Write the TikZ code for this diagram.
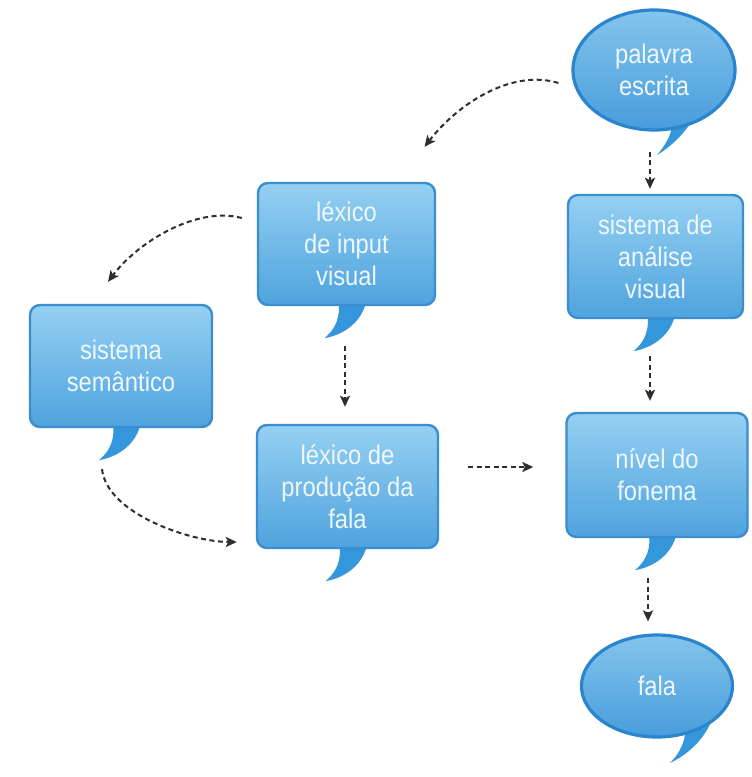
\documentclass[tikz,border=0pt]{standalone}
\usepackage{fontspec}
\usetikzlibrary{shapes.geometric,arrows.meta,backgrounds}
\newfontfamily\narrowsans[FakeStretch=0.88]{Liberation Sans}
\definecolor{blueL}{HTML}{95D0F2}
\definecolor{blueM}{HTML}{4FA3DE}
\definecolor{blueD}{HTML}{3A8DCF}
\definecolor{blueE}{HTML}{2A84CE}
\definecolor{tailC}{HTML}{3496DB}
\definecolor{txtC}{HTML}{EEF7FD}
\definecolor{arrC}{HTML}{2E2E2E}
\tikzset{
  bubblebox/.style={rectangle, rounded corners=10pt, draw=blueD, line width=2.4pt,
    top color=blueL, bottom color=blueM, text=txtC, align=center,
    font=\narrowsans\fontsize{27}{32}\selectfont, inner sep=0pt},
  bubbleell/.style={ellipse, draw=blueE, line width=3.2pt,
    top color=blueL!75!blueM, bottom color=blueM!80!blueE, text=txtC, align=center,
    font=\narrowsans\fontsize{27}{32}\selectfont, inner sep=0pt},
  tailfill/.style={fill=tailC},
  flow/.style={draw=arrC, line width=2pt, dash pattern=on 5pt off 3.5pt,
    -{Stealth[length=11pt,width=10pt,inset=2.5pt]}},
}
\newcommand{\boxtail}[1]{%
  \fill[tailfill] ([shift={(-8,-6)}]#1.south) -- ([shift={(20,-6)}]#1.south)
    .. controls ([shift={(16,14)}]#1.south) and ([shift={(0,28)}]#1.south) .. ([shift={(-22,32)}]#1.south)
    .. controls ([shift={(-10,22)}]#1.south) and ([shift={(-6,10)}]#1.south) .. cycle;}
\begin{document}
\begin{tikzpicture}[x=1pt,y=-1pt]
\useasboundingbox (0,0) rectangle (752,777);

\node[bubbleell, minimum width=162pt, minimum height=120pt] (pal) at (654,70) {palavra\\escrita};
\node[bubblebox, minimum width=177pt, minimum height=122pt] (lin) at (346.5,244) {léxico\\de input\\visual};
\node[bubblebox, minimum width=175pt, minimum height=123pt] (ana) at (655.5,256.5) {sistema de\\análise\\visual};
\node[bubblebox, minimum width=182pt, minimum height=122pt] (sem) at (121,366) {sistema\\semântico};
\node[bubblebox, minimum width=181pt, minimum height=123pt] (prod) at (347.5,486.5) {léxico de\\produção da\\fala};
\node[bubblebox, minimum width=181pt, minimum height=124pt] (niv) at (657,475) {nível do\\fonema};
\node[bubbleell, minimum width=151pt, minimum height=102pt] (fala) at (657,686) {fala};

\begin{scope}[on background layer]
  \fill[white] (0,0) rectangle (752,777);
  \boxtail{lin}
  \boxtail{ana}
  \boxtail{sem}
  \boxtail{prod}
  \boxtail{niv}
  \fill[tailfill] ([shift={(18,46)}]pal.center) -- ([shift={(48,30)}]pal.center)
    .. controls ([shift={(40,55)}]pal.center) and ([shift={(20,75)}]pal.center) .. ([shift={(3,85)}]pal.center)
    .. controls ([shift={(14,72)}]pal.center) and ([shift={(20,60)}]pal.center) .. cycle;
  \fill[tailfill] ([shift={(28,38)}]fala.center) -- ([shift={(58,24)}]fala.center)
    .. controls ([shift={(52,50)}]fala.center) and ([shift={(32,68)}]fala.center) .. ([shift={(13,77)}]fala.center)
    .. controls ([shift={(24,66)}]fala.center) and ([shift={(30,52)}]fala.center) .. cycle;
\end{scope}

\draw[flow] ([shift={(-13,13)}]pal.west) .. controls +(-45,-14) and +(35,-45) .. ([shift={(78,-35)}]lin.north);
\draw[flow] ([shift={(-15,-26)}]lin.west) .. controls +(-45,-12) and +(30,-40) .. ([shift={(-13,-22)}]sem.north);
\draw[flow] ([shift={(-19,41)}]sem.south) .. controls +(5,45) and +(-45,0) .. ([shift={(-19,55.5)}]prod.west);
\draw[flow] ([shift={(-4,20)}]pal.south) -- ([shift={(-5.5,-5)}]ana.north);
\draw[flow] ([shift={(-1.5,40)}]lin.south) -- ([shift={(-2.5,-17)}]prod.north);
\draw[flow] ([shift={(29,-19.5)}]prod.east) -- ([shift={(-32,-8)}]niv.west);
\draw[flow] ([shift={(-5.5,37)}]ana.south) -- ([shift={(-7,-11)}]niv.north);
\draw[flow] ([shift={(-9,40)}]niv.south) -- ([shift={(-9,-12)}]fala.north);
\end{tikzpicture}
\end{document}
